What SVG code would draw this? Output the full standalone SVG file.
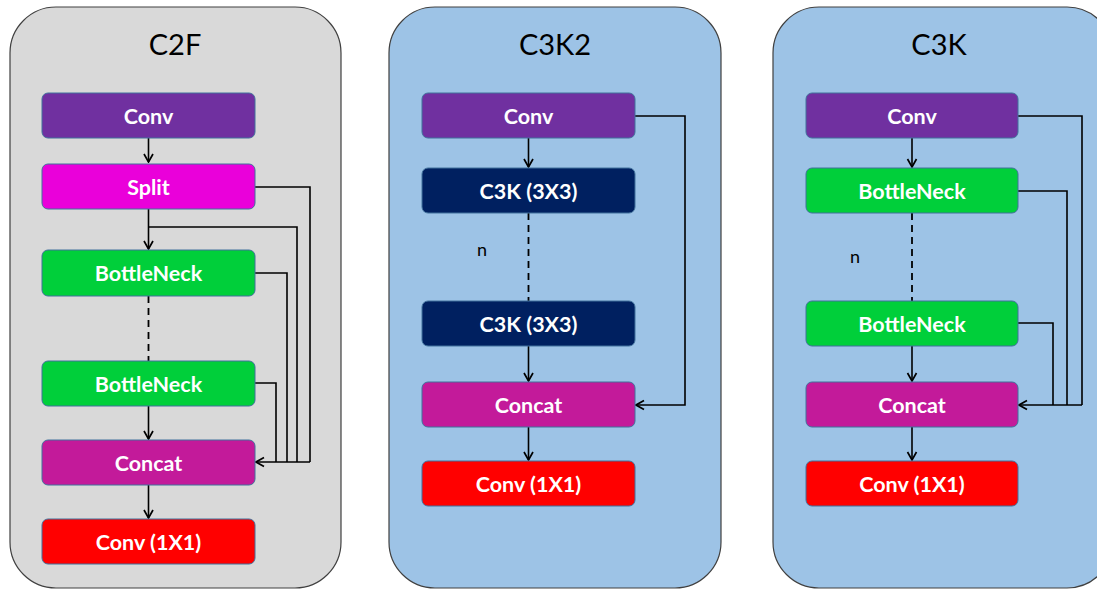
<svg xmlns="http://www.w3.org/2000/svg" width="1097" height="590" viewBox="0 0 1097 590">
<defs>
<marker id="arr" viewBox="0 0 12 12" refX="11" refY="6" markerWidth="12" markerHeight="12" markerUnits="userSpaceOnUse" orient="auto">
<polyline points="3,1.5 11,6 3,10.5" fill="none" stroke="#000" stroke-width="1.7"/>
</marker>
<style>
.panel{stroke:#404040;stroke-width:1.2}
.gray{fill:#D9D9D9}
.blue{fill:#9DC3E6}
.title{font-family:Lato,"Liberation Sans",sans-serif;font-size:29px;fill:#000;text-anchor:middle}
.box{stroke:#41719C;stroke-width:1}
.lbl{font-family:Lato,"Liberation Sans",sans-serif;font-weight:bold;font-size:21.5px;fill:#fff;text-anchor:middle}
.n{font-family:Lato,"Liberation Sans",sans-serif;font-size:18px;fill:#000;text-anchor:middle}
.conv{fill:#7030A0}
.split{fill:#EA00DA}
.bn{fill:#00CF3A}
.concat{fill:#C31A9A}
.c11{fill:#FF0000}
.c3k{fill:#002060}
.ln{fill:none;stroke:#000;stroke-width:1.6}
.dash{fill:none;stroke:#000;stroke-width:1.8;stroke-dasharray:7,5}
</style>
</defs>
<rect width="1097" height="590" fill="#fff"/>

<g id="panel-c2f">
<rect class="panel gray" x="10" y="7" width="331" height="581" rx="46"/>
<text class="title" x="175" y="55">C2F</text>
</g>
<g id="panel-c3k2">
<rect class="panel blue" x="389" y="7" width="332" height="581" rx="46"/>
<text class="title" x="555" y="55">C3K2</text>
</g>
<g id="panel-c3k">
<rect class="panel blue" x="773" y="7" width="340" height="581" rx="46"/>
<text class="title" x="939" y="55">C3K</text>
</g>

<g id="connectors">
<!-- C2F -->
<line class="ln" x1="148.5" y1="138" x2="148.5" y2="162" marker-end="url(#arr)"/>
<line class="ln" x1="148.5" y1="209" x2="148.5" y2="249" marker-end="url(#arr)"/>
<line class="dash" x1="148.5" y1="296" x2="148.5" y2="361"/>
<line class="ln" x1="148.5" y1="406" x2="148.5" y2="439" marker-end="url(#arr)"/>
<line class="ln" x1="148.5" y1="485" x2="148.5" y2="518" marker-end="url(#arr)"/>
<polyline class="ln" points="255,187 310,187 310,462"/>
<polyline class="ln" points="148.5,227 297,227 297,462"/>
<polyline class="ln" points="255,273 287,273 287,462"/>
<polyline class="ln" points="255,383 276,383 276,462"/>
<line class="ln" x1="310" y1="462" x2="256" y2="462" marker-end="url(#arr)"/>
<!-- C3K2 -->
<line class="ln" x1="528.5" y1="138" x2="528.5" y2="167" marker-end="url(#arr)"/>
<line class="dash" x1="528.5" y1="213" x2="528.5" y2="301"/>
<line class="ln" x1="528.5" y1="346" x2="528.5" y2="381" marker-end="url(#arr)"/>
<line class="ln" x1="528.5" y1="427" x2="528.5" y2="460" marker-end="url(#arr)"/>
<polyline class="ln" points="635,116 685,116 685,405 636,405" marker-end="url(#arr)"/>
<!-- C3K -->
<line class="ln" x1="912" y1="138" x2="912" y2="167" marker-end="url(#arr)"/>
<line class="dash" x1="912" y1="213" x2="912" y2="301"/>
<line class="ln" x1="912" y1="346" x2="912" y2="381" marker-end="url(#arr)"/>
<line class="ln" x1="912" y1="427" x2="912" y2="460" marker-end="url(#arr)"/>
<polyline class="ln" points="1018,116 1082,116 1082,405"/>
<polyline class="ln" points="1018,191 1067,191 1067,405"/>
<polyline class="ln" points="1018,323 1053,323 1053,405"/>
<line class="ln" x1="1082" y1="405" x2="1019" y2="405" marker-end="url(#arr)"/>
</g>

<!-- C2F nodes -->
<g id="c2f-conv"><rect class="box conv" x="42" y="93" width="213" height="45" rx="6"/><text class="lbl" x="148.5" y="123.5">Conv</text></g>
<g id="c2f-split"><rect class="box split" x="42" y="164" width="213" height="45" rx="6"/><text class="lbl" x="148.5" y="194.5">Split</text></g>
<g id="c2f-bn1"><rect class="box bn" x="42" y="250" width="213" height="46" rx="6"/><text class="lbl" x="148.5" y="281">BottleNeck</text></g>
<g id="c2f-bn2"><rect class="box bn" x="42" y="361" width="213" height="45" rx="6"/><text class="lbl" x="148.5" y="391.5">BottleNeck</text></g>
<g id="c2f-concat"><rect class="box concat" x="42" y="440" width="213" height="45" rx="6"/><text class="lbl" x="148.5" y="470.5">Concat</text></g>
<g id="c2f-conv11"><rect class="box c11" x="42" y="519" width="213" height="45" rx="6"/><text class="lbl" x="148.5" y="549.5">Conv (1X1)</text></g>

<!-- C3K2 nodes -->
<g id="c3k2-conv"><rect class="box conv" x="422" y="93" width="213" height="45" rx="6"/><text class="lbl" x="528.5" y="123.5">Conv</text></g>
<g id="c3k2-c3k1"><rect class="box c3k" x="422" y="168" width="213" height="45" rx="6"/><text class="lbl" x="528.5" y="198.5">C3K (3X3)</text></g>
<g id="c3k2-n"><text class="n" x="482" y="256">n</text></g>
<g id="c3k2-c3k2"><rect class="box c3k" x="422" y="301" width="213" height="45" rx="6"/><text class="lbl" x="528.5" y="331.5">C3K (3X3)</text></g>
<g id="c3k2-concat"><rect class="box concat" x="422" y="382" width="213" height="45" rx="6"/><text class="lbl" x="528.5" y="412.5">Concat</text></g>
<g id="c3k2-conv11"><rect class="box c11" x="422" y="461" width="213" height="45" rx="6"/><text class="lbl" x="528.5" y="491.5">Conv (1X1)</text></g>

<!-- C3K nodes -->
<g id="c3k-conv"><rect class="box conv" x="806" y="93" width="212" height="45" rx="6"/><text class="lbl" x="912" y="123.5">Conv</text></g>
<g id="c3k-bn1"><rect class="box bn" x="806" y="168" width="212" height="45" rx="6"/><text class="lbl" x="912" y="198.5">BottleNeck</text></g>
<g id="c3k-n"><text class="n" x="855" y="263">n</text></g>
<g id="c3k-bn2"><rect class="box bn" x="806" y="301" width="212" height="45" rx="6"/><text class="lbl" x="912" y="331.5">BottleNeck</text></g>
<g id="c3k-concat"><rect class="box concat" x="806" y="382" width="212" height="45" rx="6"/><text class="lbl" x="912" y="412.5">Concat</text></g>
<g id="c3k-conv11"><rect class="box c11" x="806" y="461" width="212" height="45" rx="6"/><text class="lbl" x="912" y="491.5">Conv (1X1)</text></g>
</svg>
